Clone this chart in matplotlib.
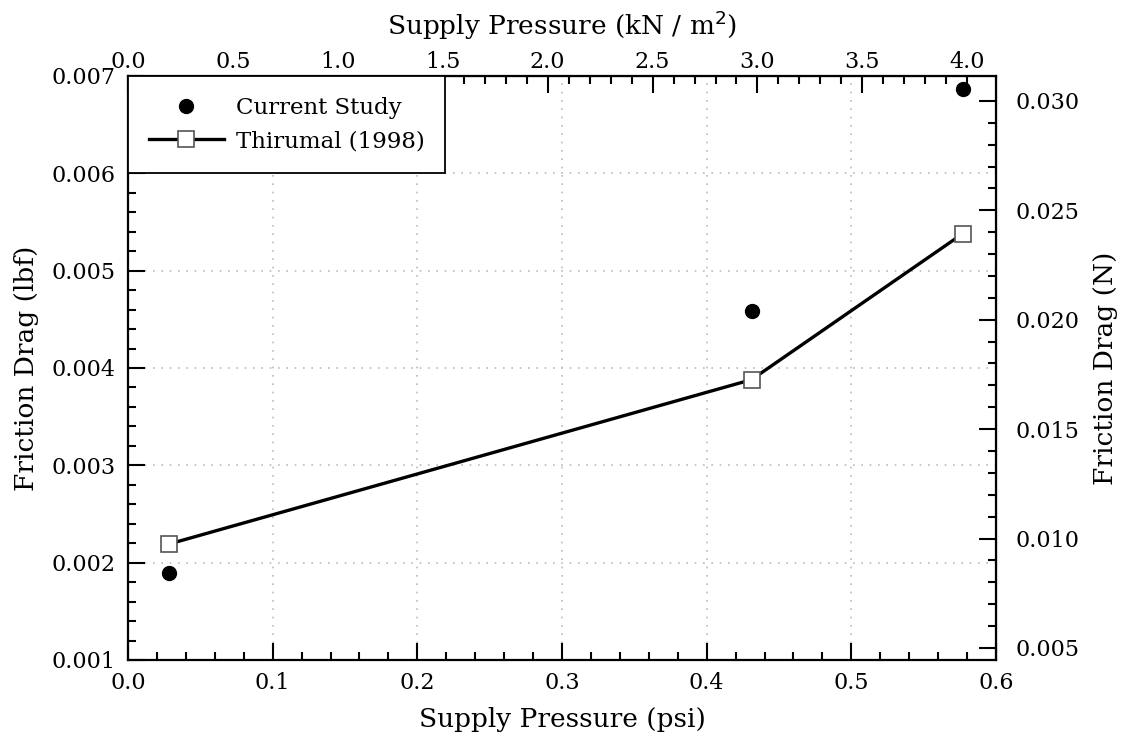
import matplotlib
matplotlib.use("Agg")
import matplotlib.pyplot as plt
from matplotlib.ticker import MultipleLocator, FixedLocator, FormatStrFormatter

plt.rcParams["font.family"] = ["DejaVu Serif"]

# Supply pressure (psi) and friction drag (lbf)
current_psi = [0.028, 0.431, 0.577]
current_drag = [0.00189, 0.00459, 0.00687]
thirumal_psi = [0.028, 0.431, 0.577]
thirumal_drag = [0.00219, 0.00388, 0.00538]

# Secondary scales
kpa_ticks = [0.0, 0.5, 1.0, 1.5, 2.0, 2.5, 3.0, 3.5, 4.0]
newton_ticks = [0.005, 0.010, 0.015, 0.020, 0.025, 0.030]

PSI_TO_KPA = 6.894757
LBF_TO_N = 4.448222

fig = plt.figure(figsize=(11.29, 7.37), dpi=100)
ax = fig.add_axes([0.1134, 0.1045, 0.7688, 0.7924])

ax.plot(current_psi, current_drag, linestyle="none", marker="o", color="black",
        markersize=10, label="Current Study", zorder=4)
ax.plot(thirumal_psi, thirumal_drag, color="black", linewidth=2.4, marker="s",
        markersize=12, markerfacecolor="white", markeredgecolor="#555555",
        markeredgewidth=1.2, label="Thirumal (1998)", zorder=3)

ax.set_xlim(0.0, 0.6)
ax.set_ylim(0.001, 0.007)
ax.xaxis.set_major_locator(MultipleLocator(0.1))
ax.xaxis.set_minor_locator(MultipleLocator(0.02))
ax.yaxis.set_major_locator(MultipleLocator(0.001))
ax.yaxis.set_minor_locator(MultipleLocator(0.0002))
ax.xaxis.set_major_formatter(FormatStrFormatter("%.1f"))
ax.yaxis.set_major_formatter(FormatStrFormatter("%.3f"))
ax.grid(True, which="major", linestyle=(0, (1, 4)), color="#bbbbbb", linewidth=1.2)

ax.tick_params(which="both", direction="in", labelsize=16, width=1.5)
ax.tick_params(which="major", length=12, pad=9)
ax.tick_params(which="minor", length=6)
for s in ax.spines.values():
    s.set_linewidth(1.6)

ax.set_xlabel("Supply Pressure (psi)", fontsize=19, labelpad=9)
ax.set_ylabel("Friction Drag (lbf)", fontsize=19, labelpad=9)

# Top axis in kN/m^2
top = ax.secondary_xaxis("top", functions=(lambda p: p * PSI_TO_KPA,
                                          lambda k: k / PSI_TO_KPA))
top.xaxis.set_major_locator(FixedLocator(kpa_ticks))
top.xaxis.set_minor_locator(FixedLocator([k / 10 for k in range(0, 41)]))
top.xaxis.set_major_formatter(FormatStrFormatter("%.1f"))
top.tick_params(which="both", direction="in", labelsize=16, width=1.5)
top.tick_params(which="major", length=12, pad=2)
top.tick_params(which="minor", length=6)
top.set_xlabel("Supply Pressure (kN / m$^{2}$)", fontsize=19, labelpad=12)

# Right axis in N
right = ax.secondary_yaxis("right", functions=(lambda f: f * LBF_TO_N,
                                              lambda n: n / LBF_TO_N))
right.yaxis.set_major_locator(FixedLocator(newton_ticks))
right.yaxis.set_minor_locator(FixedLocator([n / 1000 for n in range(5, 31)]))
right.yaxis.set_major_formatter(FormatStrFormatter("%.3f"))
right.tick_params(which="both", direction="in", labelsize=16, width=1.5)
right.tick_params(which="major", length=12, pad=14)
right.tick_params(which="minor", length=6)
right.set_ylabel("Friction Drag (N)", fontsize=19, labelpad=10)

leg = ax.legend(loc="upper left", fontsize=16.5, frameon=True, fancybox=False,
                edgecolor="black", framealpha=1, borderaxespad=0,
                handlelength=3.3, borderpad=0.9, labelspacing=0.5,
                handletextpad=0.5)
leg.get_frame().set_linewidth(1.3)

fig.savefig("out.png", dpi=100)
